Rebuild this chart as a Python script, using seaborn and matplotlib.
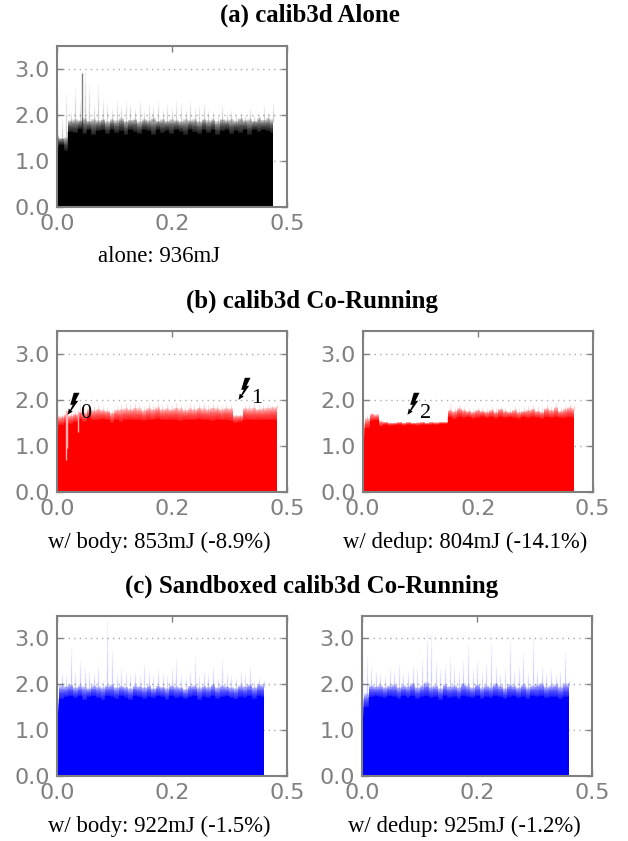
import numpy as np
import seaborn as sns
import matplotlib
matplotlib.use('Agg')
import matplotlib.pyplot as plt
from matplotlib.path import Path

# solid top of each power trace (W), evenly sampled over the run
alone_solid = [1.30, 1.35, 1.22, 1.62, 1.60, 1.68, 1.58, 1.66, 1.55, 1.64, 1.66, 1.58, 1.67, 1.60, 1.65, 1.56,
               1.66, 1.62, 1.58, 1.66, 1.64, 1.55, 1.67, 1.60, 1.65, 1.58, 1.66, 1.63, 1.56, 1.67, 1.62, 1.58,
               1.66, 1.60, 1.66, 1.56, 1.64, 1.67, 1.58, 1.65, 1.60, 1.66, 1.57, 1.67, 1.62, 1.66, 1.64, 1.60]
alone_haze = [1.55, 1.50, 1.52, 1.88, 1.90, 1.88, 1.92, 1.87, 1.90, 1.88, 1.91, 1.86, 1.90, 1.88, 1.92, 1.87,
              1.89, 1.91, 1.86, 1.90, 1.88, 1.92, 1.87, 1.90, 1.87, 1.91, 1.88, 1.86, 1.91, 1.88, 1.90, 1.87,
              1.91, 1.88, 1.90, 1.86, 1.91, 1.88, 1.90, 1.87, 1.92, 1.88, 1.90, 1.87, 1.92, 1.89, 1.92, 1.90]
alone_peak = [2.60, 1.90, 2.45, 2.05, 2.55, 2.30, 2.95, 2.65, 2.20, 2.65, 2.35, 2.25, 2.15, 2.30, 2.20, 2.30,
              2.25, 2.15, 2.30, 2.10, 2.25, 2.20, 2.30, 2.10, 2.25, 2.15, 2.30, 2.25, 2.10, 2.30, 2.15, 2.20,
              2.25, 2.10, 2.05, 2.00, 2.20, 2.05, 2.10, 2.00, 2.05, 2.00, 2.15, 2.00, 2.05, 2.20, 2.05, 2.25]
body_solid = [1.42, 1.45, 1.50, 1.48, 1.52, 1.58, 1.52, 1.60, 1.55, 1.56, 1.58, 1.57, 1.50, 1.56, 1.52, 1.55,
              1.57, 1.55, 1.56, 1.54, 1.57, 1.55, 1.58, 1.56, 1.55, 1.57, 1.56, 1.54, 1.57, 1.55, 1.56, 1.58,
              1.55, 1.56, 1.54, 1.57, 1.55, 1.56, 1.54, 1.50, 1.52, 1.57, 1.56, 1.55, 1.57, 1.55, 1.56, 1.57, 1.56]
body_haze = [1.66, 1.64, 1.68, 1.66, 1.70, 1.74, 1.72, 1.80, 1.78, 1.80, 1.78, 1.76, 1.72, 1.78, 1.80, 1.82,
             1.80, 1.83, 1.81, 1.78, 1.82, 1.80, 1.84, 1.80, 1.82, 1.80, 1.83, 1.81, 1.78, 1.82, 1.80, 1.83,
             1.82, 1.80, 1.83, 1.81, 1.80, 1.82, 1.82, 1.66, 1.66, 1.82, 1.81, 1.83, 1.80, 1.82, 1.83, 1.84, 1.85]
body_peak = [1.72, 1.70, 1.85, 1.74, 1.78, 1.95, 1.85, 1.95, 1.90, 1.92, 1.88, 1.85, 1.78, 1.88, 1.92, 1.95,
             1.90, 1.95, 1.92, 1.88, 1.96, 1.90, 1.94, 1.92, 1.95, 1.90, 1.96, 1.92, 1.88, 1.95, 1.90, 1.94,
             1.96, 1.90, 1.94, 1.92, 1.90, 1.92, 1.90, 1.68, 1.68, 1.92, 1.90, 1.94, 1.90, 1.92, 1.90, 1.88, 1.90]
dedup_solid = [1.20, 1.38, 1.54, 1.55, 1.42, 1.46, 1.44, 1.45, 1.46, 1.44, 1.46, 1.45, 1.44, 1.46, 1.45, 1.46,
               1.45, 1.47, 1.47, 1.62, 1.58, 1.63, 1.60, 1.62, 1.59, 1.61, 1.63, 1.60, 1.62, 1.59, 1.63, 1.60,
               1.62, 1.61, 1.58, 1.62, 1.60, 1.63, 1.61, 1.59, 1.62, 1.60, 1.62, 1.61, 1.60, 1.62, 1.61]
dedup_haze = [1.50, 1.60, 1.70, 1.68, 1.54, 1.52, 1.50, 1.50, 1.52, 1.50, 1.52, 1.50, 1.51, 1.52, 1.50, 1.52,
              1.51, 1.52, 1.52, 1.78, 1.76, 1.82, 1.78, 1.76, 1.74, 1.78, 1.76, 1.74, 1.78, 1.74, 1.80, 1.76,
              1.74, 1.78, 1.74, 1.76, 1.78, 1.80, 1.76, 1.74, 1.82, 1.78, 1.84, 1.76, 1.80, 1.84, 1.82]
dedup_peak = [1.62, 1.68, 1.74, 1.72, 1.56, 1.53, 1.52, 1.51, 1.53, 1.51, 1.53, 1.51, 1.52, 1.53, 1.51, 1.53,
              1.52, 1.53, 1.53, 1.92, 1.84, 1.90, 1.86, 1.84, 1.82, 1.86, 1.84, 1.82, 1.88, 1.84, 1.86, 1.84,
              1.82, 1.88, 1.84, 1.86, 1.88, 1.92, 1.86, 1.84, 1.90, 1.86, 1.94, 1.86, 1.88, 1.92, 1.90]
sb_body_solid = [1.38, 1.68, 1.72, 1.74, 1.70, 1.74, 1.66, 1.72, 1.74, 1.70, 1.66, 1.74, 1.72, 1.69, 1.74, 1.71,
                 1.66, 1.74, 1.72, 1.68, 1.73, 1.70, 1.74, 1.72, 1.66, 1.74, 1.70, 1.73, 1.68, 1.72, 1.74, 1.66,
                 1.73, 1.70, 1.74, 1.68, 1.72, 1.74, 1.70, 1.67, 1.73, 1.71, 1.74, 1.69, 1.74, 1.72]
sb_body_haze = [1.62, 1.98, 1.96, 2.00, 1.94, 1.98, 1.96, 1.92, 1.98, 1.96, 1.94, 1.98, 2.00, 1.94, 1.97, 1.95,
                1.92, 1.98, 1.96, 1.94, 1.98, 1.92, 1.97, 1.95, 1.92, 1.98, 1.96, 1.94, 1.90, 1.97, 1.98, 1.94,
                1.97, 1.95, 2.00, 1.94, 1.98, 1.96, 1.94, 1.92, 1.98, 1.96, 2.00, 1.94, 2.00, 2.00]
sb_body_peak = [1.80, 2.25, 2.20, 2.80, 2.30, 2.50, 2.35, 2.30, 2.25, 2.40, 2.10, 3.40, 2.75, 2.25, 2.35, 2.30,
                2.25, 2.30, 2.20, 2.45, 2.30, 2.20, 2.35, 2.25, 2.20, 2.35, 2.55, 2.20, 2.15, 2.30, 2.60, 2.20,
                2.30, 2.25, 2.40, 2.15, 2.55, 2.25, 2.20, 2.15, 2.30, 2.25, 2.40, 2.10, 2.15, 2.10]
sb_dedup_solid = [1.30, 1.50, 1.72, 1.74, 1.72, 1.70, 1.74, 1.72, 1.68, 1.74, 1.71, 1.74, 1.68, 1.73, 1.74, 1.70,
                  1.72, 1.66, 1.74, 1.71, 1.73, 1.68, 1.74, 1.72, 1.70, 1.74, 1.67, 1.73, 1.70, 1.74, 1.72, 1.68,
                  1.73, 1.74, 1.70, 1.73, 1.67, 1.74, 1.72, 1.74, 1.70, 1.73, 1.72, 1.68, 1.73, 1.72]
sb_dedup_haze = [1.70, 1.80, 1.98, 1.96, 1.98, 1.94, 1.98, 2.00, 1.94, 1.98, 1.96, 2.02, 1.94, 1.98, 2.04, 1.96,
                 1.98, 1.92, 2.00, 1.96, 1.98, 1.94, 2.02, 1.98, 1.94, 2.00, 1.94, 1.98, 1.96, 2.02, 1.98, 1.92,
                 2.00, 1.98, 1.94, 2.00, 1.94, 1.98, 2.00, 2.02, 1.96, 1.98, 2.00, 1.96, 2.02, 2.02]
sb_dedup_peak = [2.70, 2.60, 2.40, 2.30, 2.25, 2.20, 2.35, 2.30, 2.45, 2.25, 2.30, 2.40, 2.35, 2.55, 3.15, 3.10,
                 2.50, 2.35, 2.45, 2.60, 2.40, 2.30, 2.50, 2.85, 2.35, 2.50, 2.30, 2.45, 2.90, 2.40, 2.25, 2.35,
                 2.95, 2.30, 2.40, 2.70, 2.25, 3.00, 2.30, 2.40, 2.25, 2.35, 2.20, 2.30, 2.70, 2.10]

# run length of each trace (s)
alone_end, body_end, dedup_end, sb_body_end, sb_dedup_end = 0.469, 0.478, 0.460, 0.449, 0.451

# deep dips cut into the band in (b)
body_dip_t = [0.0195, 0.0215, 0.045]
body_dip_p = [0.70, 0.95, 1.30]

y_ticks = [0.0, 1.0, 2.0, 3.0]
x_ticks = [0.0, 0.25, 0.5]
x_labels = ['0.0', '0.2', '0.5']

panels = [
    ('a', alone_solid, alone_haze, alone_peak, alone_end, 'alone: 936mJ', 'black', (57, 45.5, 230, 161.5)),
    ('b0', body_solid, body_haze, body_peak, body_end, 'w/ body: 853mJ (-8.9%)', 'red', (57, 330.5, 230, 161.5)),
    ('b1', dedup_solid, dedup_haze, dedup_peak, dedup_end, 'w/ dedup: 804mJ (-14.1%)', 'red', (362.7, 330.5, 230, 161.5)),
    ('c0', sb_body_solid, sb_body_haze, sb_body_peak, sb_body_end, 'w/ body: 922mJ (-1.5%)', 'blue', (57, 615.5, 230, 160.5)),
    ('c1', sb_dedup_solid, sb_dedup_haze, sb_dedup_peak, sb_dedup_end, 'w/ dedup: 925mJ (-1.2%)', 'blue', (362, 615.5, 230, 160.5)),
]

sns.set_theme(style='white')
W, H = 628, 841
fig = plt.figure(figsize=(W / 100, H / 100), dpi=100, facecolor='white')
GREY = '#808080'
axes = {}

for name, solid, haze, peak, end, caption, color, box in panels:
    left, top, w, h = box
    ax = fig.add_axes([left / W, 1 - (top + h) / H, w / W, h / H])
    axes[name] = ax
    t = np.linspace(0, end, len(solid))
    solid = np.array(solid)
    haze = np.array(haze)
    peak = np.array(peak)

    # haze band: stacked faint layers between the solid top and the haze top
    for frac in [1.0, 0.94, 0.88, 0.82, 0.76, 0.7, 0.64, 0.58, 0.52, 0.46, 0.4, 0.34, 0.28, 0.22, 0.16, 0.1, 0.05]:
        ax.fill_between(t, 0, solid + frac * (haze - solid), color=color, alpha=0.11, lw=0, zorder=2, step='mid')
    ax.fill_between(t, 0, solid, color=color, lw=0, zorder=3, step='mid')
    # thin spikes above the band fade out towards their peak
    for frac in [1.0, 0.75, 0.5, 0.25]:
        ax.vlines(t, haze - 0.05, haze + frac * (peak - haze), color=color, lw=0.9, alpha=0.05, zorder=2)
    sns.lineplot(x=t, y=solid, color=color, lw=0.3, ax=ax, zorder=3, errorbar=None, drawstyle='steps-mid')

    ax.set_xlim(0, 0.5)
    ax.set_ylim(0, 3.5)
    ax.set_xticks(x_ticks)
    ax.set_xticklabels(x_labels)
    ax.set_yticks(y_ticks)
    ax.yaxis.set_major_formatter('{x:.1f}')
    ax.set_xlabel('')
    ax.set_ylabel('')
    ax.yaxis.grid(True, color='#aaaaaa', ls=(0, (1, 3)), lw=1.0, zorder=1)
    ax.set_axisbelow(True)
    ax.tick_params(axis='both', direction='in', length=4, width=1, color=GREY, labelcolor=GREY,
                   labelsize=16, top=True, right=True, left=True, bottom=True)
    ax.tick_params(axis='x', pad=5)
    ax.tick_params(axis='y', pad=5)
    for s in ax.spines.values():
        s.set_color(GREY)
        s.set_linewidth(1.5)
        s.set_zorder(5)
    fig.text((left + 102) / W, 1 - (top + h + 50) / H, caption, ha='center', va='center',
             family='Liberation Serif', fontsize=16.4, color='black')

# darker spike in the alone trace and the dips in the body trace
axes['a'].vlines([0.055], 1.6, [2.9], color='black', lw=1.0, alpha=0.5, zorder=3)
axes['b0'].vlines(body_dip_t, body_dip_p, 1.75, color='#ffb0b0', lw=1.0, zorder=4)

# group titles
for text, tx, ty in [('(a) calib3d Alone', 310, 15), ('(b) calib3d Co-Running', 312, 301),
                     ('(c) Sandboxed calib3d Co-Running', 312, 586)]:
    fig.text(tx / W, 1 - ty / H, text, ha='center', va='center',
             family='Liberation Serif', weight='bold', fontsize=17.9, color='black')

# preemption markers: lightning bolt drawn as a custom marker plus a numeric label
bolt = Path([(0.3, 10.7), (6, 10.7), (2, 2.7), (4.7, 2.7), (-2.3, -7.3), (-0.7, -8), (-6, -11.3),
             (-4.7, -5), (-3.3, -6.3), (-0.7, -1.3), (-3.3, -1.3), (0.3, 10.7)], closed=True)
marks = [('b0', 0.034, 1.92, 0.063, 1.70, '0'), ('b0', 0.407, 2.25, 0.433, 2.03, '1'),
         ('b1', 0.109, 1.92, 0.137, 1.71, '2')]
for name, bx, by, nx, ny, label in marks:
    ax = axes[name]
    ax.plot([bx], [by], marker=bolt, ms=16.3, color='black', mew=0, ls='none', zorder=6)
    ax.text(nx, ny, label, family='Liberation Serif', fontsize=16, color='black',
            ha='center', va='center', zorder=6)

fig.savefig('out.png', dpi=100, facecolor='white')
